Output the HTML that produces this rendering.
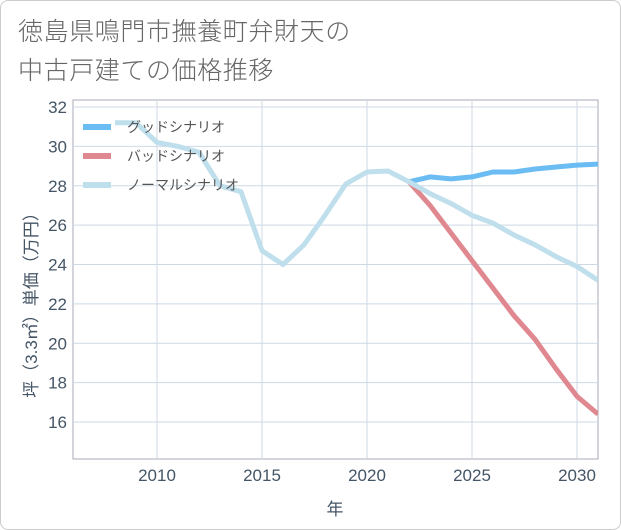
<!DOCTYPE html>
<html><head><meta charset="utf-8">
<style>
body{margin:0;background:#fff;}
#wrap{position:relative;width:619px;height:528px;border:1px solid #ccc;border-radius:8px;background:#fff;overflow:hidden;font-family:"Liberation Sans","Noto Sans CJK JP",sans-serif;}
#title{position:absolute;left:17px;top:12px;font-size:25px;line-height:39px;color:#666;font-weight:300;letter-spacing:0.6px;white-space:nowrap;}
svg{position:absolute;left:0;top:0;}
</style></head><body>
<div id="wrap">
<div id="title">徳島県鳴門市撫養町弁財天の<br>中古戸建ての価格推移</div>
<svg id="chart" width="621" height="530"></svg>
</div>
<script>
const years=[2008,2009,2010,2011,2012,2013,2014,2015,2016,2017,2018,2019,2020,2021,2022,2023,2024,2025,2026,2027,2028,2029,2030,2031];
const normal=[31.2,31.2,30.2,30.0,29.7,28.0,27.7,24.7,24.0,25.0,26.5,28.1,28.7,28.75,28.2,27.6,27.1,26.5,26.1,25.5,25.0,24.4,23.9,23.2];
const futureYears=[2022,2023,2024,2025,2026,2027,2028,2029,2030,2031];
const good=[28.2,28.45,28.35,28.45,28.7,28.7,28.85,28.95,29.05,29.1];
const bad=[28.2,27.0,25.6,24.2,22.8,21.4,20.2,18.7,17.3,16.4];
const yTicks=[16,18,20,22,24,26,28,30,32];
const xTicks=[2010,2015,2020,2025,2030];
const legendLabels=["グッドシナリオ","バッドシナリオ","ノーマルシナリオ"];
const legendColors=["#6bbcf3","#e08890","#c0dfec"];

const NS="http://www.w3.org/2000/svg";
const svg=document.getElementById('chart');
const L=72,R=597,T=99,B=458;
const x=v=>156+(v-2010)*(576-156)/20;
const y=v=>421-(v-16)*(421-106)/16;
function mk(tag,attrs,parent){const e=document.createElementNS(NS,tag);for(const k in attrs)e.setAttribute(k,attrs[k]);(parent||svg).appendChild(e);return e;}
mk('rect',{x:L,y:T,width:R-L,height:B-T,fill:'#fff',stroke:'#aab','stroke-width':1});
yTicks.forEach(t=>{
  const l=mk('line',{x1:L,x2:R,y1:y(t),y2:y(t),stroke:'#cdd9e5','stroke-width':1});
  
  
  const tx=mk('text',{x:L-6,y:y(t)+6,'text-anchor':'end','font-size':17,fill:'#456'});
  tx.textContent=t;
  
  
});
xTicks.forEach(t=>{
  const l=mk('line',{x1:x(t),x2:x(t),y1:T,y2:B,stroke:'#cdd9e5','stroke-width':1});
  
  
  const tx=mk('text',{x:x(t),y:B+22,'text-anchor':'middle','font-size':17,fill:'#456'});
  tx.textContent=t;
  
  
});
const xt=mk('text',{x:334,y:514,'text-anchor':'middle','font-size':17,fill:'#456'});
xt.textContent='年';


const yt=mk('text',{x:0,y:0,'text-anchor':'middle','font-size':17,fill:'#456',transform:'translate(36,300) rotate(-90)'});
yt.textContent='坪（3.3㎡）単価（万円）';


const clip=mk('clipPath',{id:'c'});mk('rect',{x:L,y:T,width:R-L,height:B-T},clip);
function line(xs,vs,color,name){
  const d=xs.map((v,i)=>(i?'L':'M')+x(v).toFixed(1)+' '+y(vs[i]).toFixed(1)).join(' ');
  const p=mk('path',{d:d,fill:'none',stroke:color,'stroke-width':5,'stroke-linejoin':'round','clip-path':'url(#c)'});
  
  
}
line(futureYears,good,legendColors[0],'good-scenario-line');
line(futureYears,bad,legendColors[1],'bad-scenario-line');
line(years,normal,legendColors[2],'normal-scenario-line');
legendLabels.forEach((lab,i)=>{
  const ly=126+i*29;
  const r=mk('rect',{x:82,y:ly-3,width:28,height:6,fill:legendColors[i]});
  
  
  const t=mk('text',{x:126,y:ly+5,'font-size':14,fill:'#555'});
  t.textContent=lab;
  
  
});
</script>
</body></html>
